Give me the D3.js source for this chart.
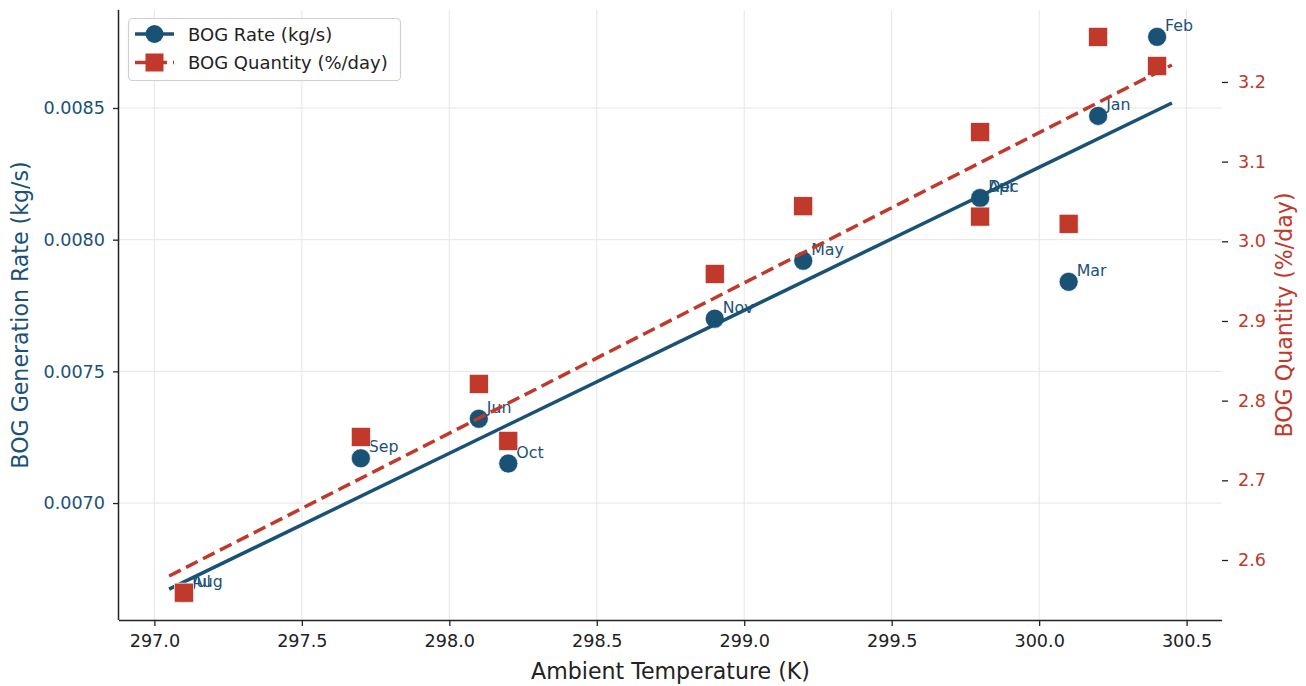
<!DOCTYPE html>
<html>
<head>
<meta charset="utf-8">
<script src="https://cdn.jsdelivr.net/npm/d3@7"></script>
<style>
  body { margin: 0; background: #fff; }
  svg, svg text { font-family: "DejaVu Sans", sans-serif; }
</style>
</head>
<body>
<div id="viz"></div>
<script>
// Monthly readings
const months = ["Jan", "Feb", "Mar", "Apr", "May", "Jun", "Jul", "Aug", "Sep", "Oct", "Nov", "Dec"]
const temps = [300.2, 300.4, 300.1, 299.8, 299.2, 298.1, 297.1, 297.1, 297.7, 298.2, 298.9, 299.8]
const rates = [0.00847, 0.00877, 0.00784, 0.008158, 0.00792, 0.00732, 0.006658, 0.006658, 0.00717, 0.00715, 0.00770, 0.008158]
const quantities = [3.2565, 3.220, 3.022, 3.137, 3.044, 2.821, 2.559, 2.559, 2.7545, 2.7495, 2.959, 3.031]

// Fitted trend lines (endpoints)
const trendTemps = [297.05, 300.45]
const rateTrend = [0.006673, 0.008519]
const quantityTrend = [2.5799, 3.2213]

const xTicks = [297.0, 297.5, 298.0, 298.5, 299.0, 299.5, 300.0, 300.5]
const rateTicks = [0.0070, 0.0075, 0.0080, 0.0085]
const quantityTicks = [2.6, 2.7, 2.8, 2.9, 3.0, 3.1, 3.2]

const width = 1306
const height = 686
const margin = { top: 10, right: 84, bottom: 66, left: 119 }
const blue = "#1a5276"
const red = "#c0392b"

const svg = d3.select("#viz").append("svg")
  .attr("width", width)
  .attr("height", height)

const x = d3.scaleLinear()
  .domain([296.88, 300.62])
  .range([margin.left, width - margin.right])

const yRate = d3.scaleLinear()
  .domain([0.006556, 0.008872])
  .range([height - margin.bottom, margin.top])

const yQty = d3.scaleLinear()
  .domain([2.5247, 3.2903])
  .range([height - margin.bottom, margin.top])

const plotBottom = height - margin.bottom
const plotRight = width - margin.right

// grid
const grid = svg.append("g").attr("stroke", "#e6e6e6").attr("stroke-width", 1)
grid.selectAll(".vg").data(xTicks).enter().append("line")
  .attr("x1", d => x(d)).attr("x2", d => x(d))
  .attr("y1", margin.top).attr("y2", plotBottom)
grid.selectAll(".hg").data(rateTicks).enter().append("line")
  .attr("x1", margin.left).attr("x2", plotRight)
  .attr("y1", d => yRate(d)).attr("y2", d => yRate(d))

// axes
const xAxis = svg.append("g")
  .attr("transform", `translate(0,${plotBottom})`)
  .call(d3.axisBottom(x).tickValues(xTicks).tickFormat(d3.format(".1f")).tickSize(6).tickPadding(9))
  .attr("font-family", null)
xAxis.select(".domain").attr("d", `M${margin.left},0.5H${plotRight}`).attr("stroke", "#222").attr("stroke-width", 1.5)
xAxis.selectAll("text").attr("font-size", 17.6).attr("fill", "#222")
xAxis.selectAll(".tick line").attr("stroke", "#222").attr("stroke-width", 1.3)

const yAxisL = svg.append("g")
  .attr("transform", `translate(${margin.left},0)`)
  .call(d3.axisLeft(yRate).tickValues(rateTicks).tickFormat(d3.format(".4f")).tickSize(6).tickPadding(8))
  .attr("font-family", null)
yAxisL.select(".domain").attr("d", `M-0.5,${margin.top}V${plotBottom}`).attr("stroke", "#222").attr("stroke-width", 1.5)
yAxisL.selectAll("text").attr("font-size", 17.6).attr("fill", blue)
yAxisL.selectAll(".tick line").attr("stroke", "#222").attr("stroke-width", 1.3)

const yAxisR = svg.append("g")
  .attr("transform", `translate(${plotRight},0)`)
  .call(d3.axisRight(yQty).tickValues(quantityTicks).tickFormat(d3.format(".1f")).tickSize(6).tickPadding(10))
  .attr("font-family", null)
yAxisR.select(".domain").remove()
yAxisR.selectAll("text").attr("font-size", 17.6).attr("fill", red)
yAxisR.selectAll(".tick line").attr("stroke", "#222").attr("stroke-width", 1.3)

// axis labels
svg.append("text")
  .attr("x", (margin.left + plotRight) / 2).attr("y", 679)
  .attr("text-anchor", "middle").attr("font-size", 22.1).attr("fill", "#222")
  .text("Ambient Temperature (K)")
svg.append("text")
  .attr("transform", `translate(28,${(margin.top + plotBottom) / 2}) rotate(-90)`)
  .attr("text-anchor", "middle").attr("font-size", 22.1).attr("fill", blue)
  .text("BOG Generation Rate (kg/s)")
svg.append("text")
  .attr("transform", `translate(1292,${(margin.top + plotBottom) / 2}) rotate(-90)`)
  .attr("text-anchor", "middle").attr("font-size", 22.1).attr("fill", red)
  .text("BOG Quantity (%/day)")

const line = d3.line()

// rate series: points, labels, trend
svg.selectAll(".rate").data(months).enter().append("circle")
  .attr("cx", (d, i) => x(temps[i]))
  .attr("cy", (d, i) => yRate(rates[i]))
  .attr("r", 9.5)
  .attr("fill", blue)
  .attr("stroke", "#fff").attr("stroke-width", 0.6)

svg.selectAll(".mlabel").data(months).enter().append("text")
  .attr("x", (d, i) => x(temps[i]) + 8)
  .attr("y", (d, i) => yRate(rates[i]) - 6)
  .attr("font-size", 15.8).attr("fill", blue)
  .text(d => d)

svg.append("path")
  .attr("d", line(trendTemps.map((t, i) => [x(t), yRate(rateTrend[i])])))
  .attr("fill", "none").attr("stroke", blue).attr("stroke-width", 3.5)

// quantity series: squares, trend
svg.selectAll(".qty").data(months).enter().append("rect")
  .attr("x", (d, i) => x(temps[i]) - 9.5)
  .attr("y", (d, i) => yQty(quantities[i]) - 9.5)
  .attr("width", 19).attr("height", 19)
  .attr("fill", red)
  .attr("stroke", "#fff").attr("stroke-width", 0.6)

svg.append("path")
  .attr("d", line(trendTemps.map((t, i) => [x(t), yQty(quantityTrend[i])])))
  .attr("fill", "none").attr("stroke", red).attr("stroke-width", 3.5)
  .attr("stroke-dasharray", "13,6")

// legend
const legend = svg.append("g")
legend.append("rect")
  .attr("x", 128.5).attr("y", 18.5).attr("width", 272).attr("height", 62).attr("rx", 4)
  .attr("fill", "#fff").attr("fill-opacity", 0.8).attr("stroke", "#d0d0d0").attr("stroke-width", 1.2)
const legendItems = [
  { label: "BOG Rate (kg/s)", color: blue, dash: null, shape: "circle" },
  { label: "BOG Quantity (%/day)", color: red, dash: "13,6", shape: "square" }
]
legendItems.forEach((item, i) => {
  const cy = 34 + i * 28.5
  legend.append("line")
    .attr("x1", 135).attr("x2", 174).attr("y1", cy).attr("y2", cy)
    .attr("stroke", item.color).attr("stroke-width", 3.5)
    .attr("stroke-dasharray", item.dash)
  if (item.shape === "circle") {
    legend.append("circle").attr("cx", 154.5).attr("cy", cy).attr("r", 9).attr("fill", item.color)
  } else {
    legend.append("rect").attr("x", 145.5).attr("y", cy - 9).attr("width", 18).attr("height", 18).attr("fill", item.color)
  }
  legend.append("text")
    .attr("x", 188).attr("y", cy + 6.5)
    .attr("font-size", 18).attr("fill", "#222")
    .text(item.label)
})
</script>
</body>
</html>
